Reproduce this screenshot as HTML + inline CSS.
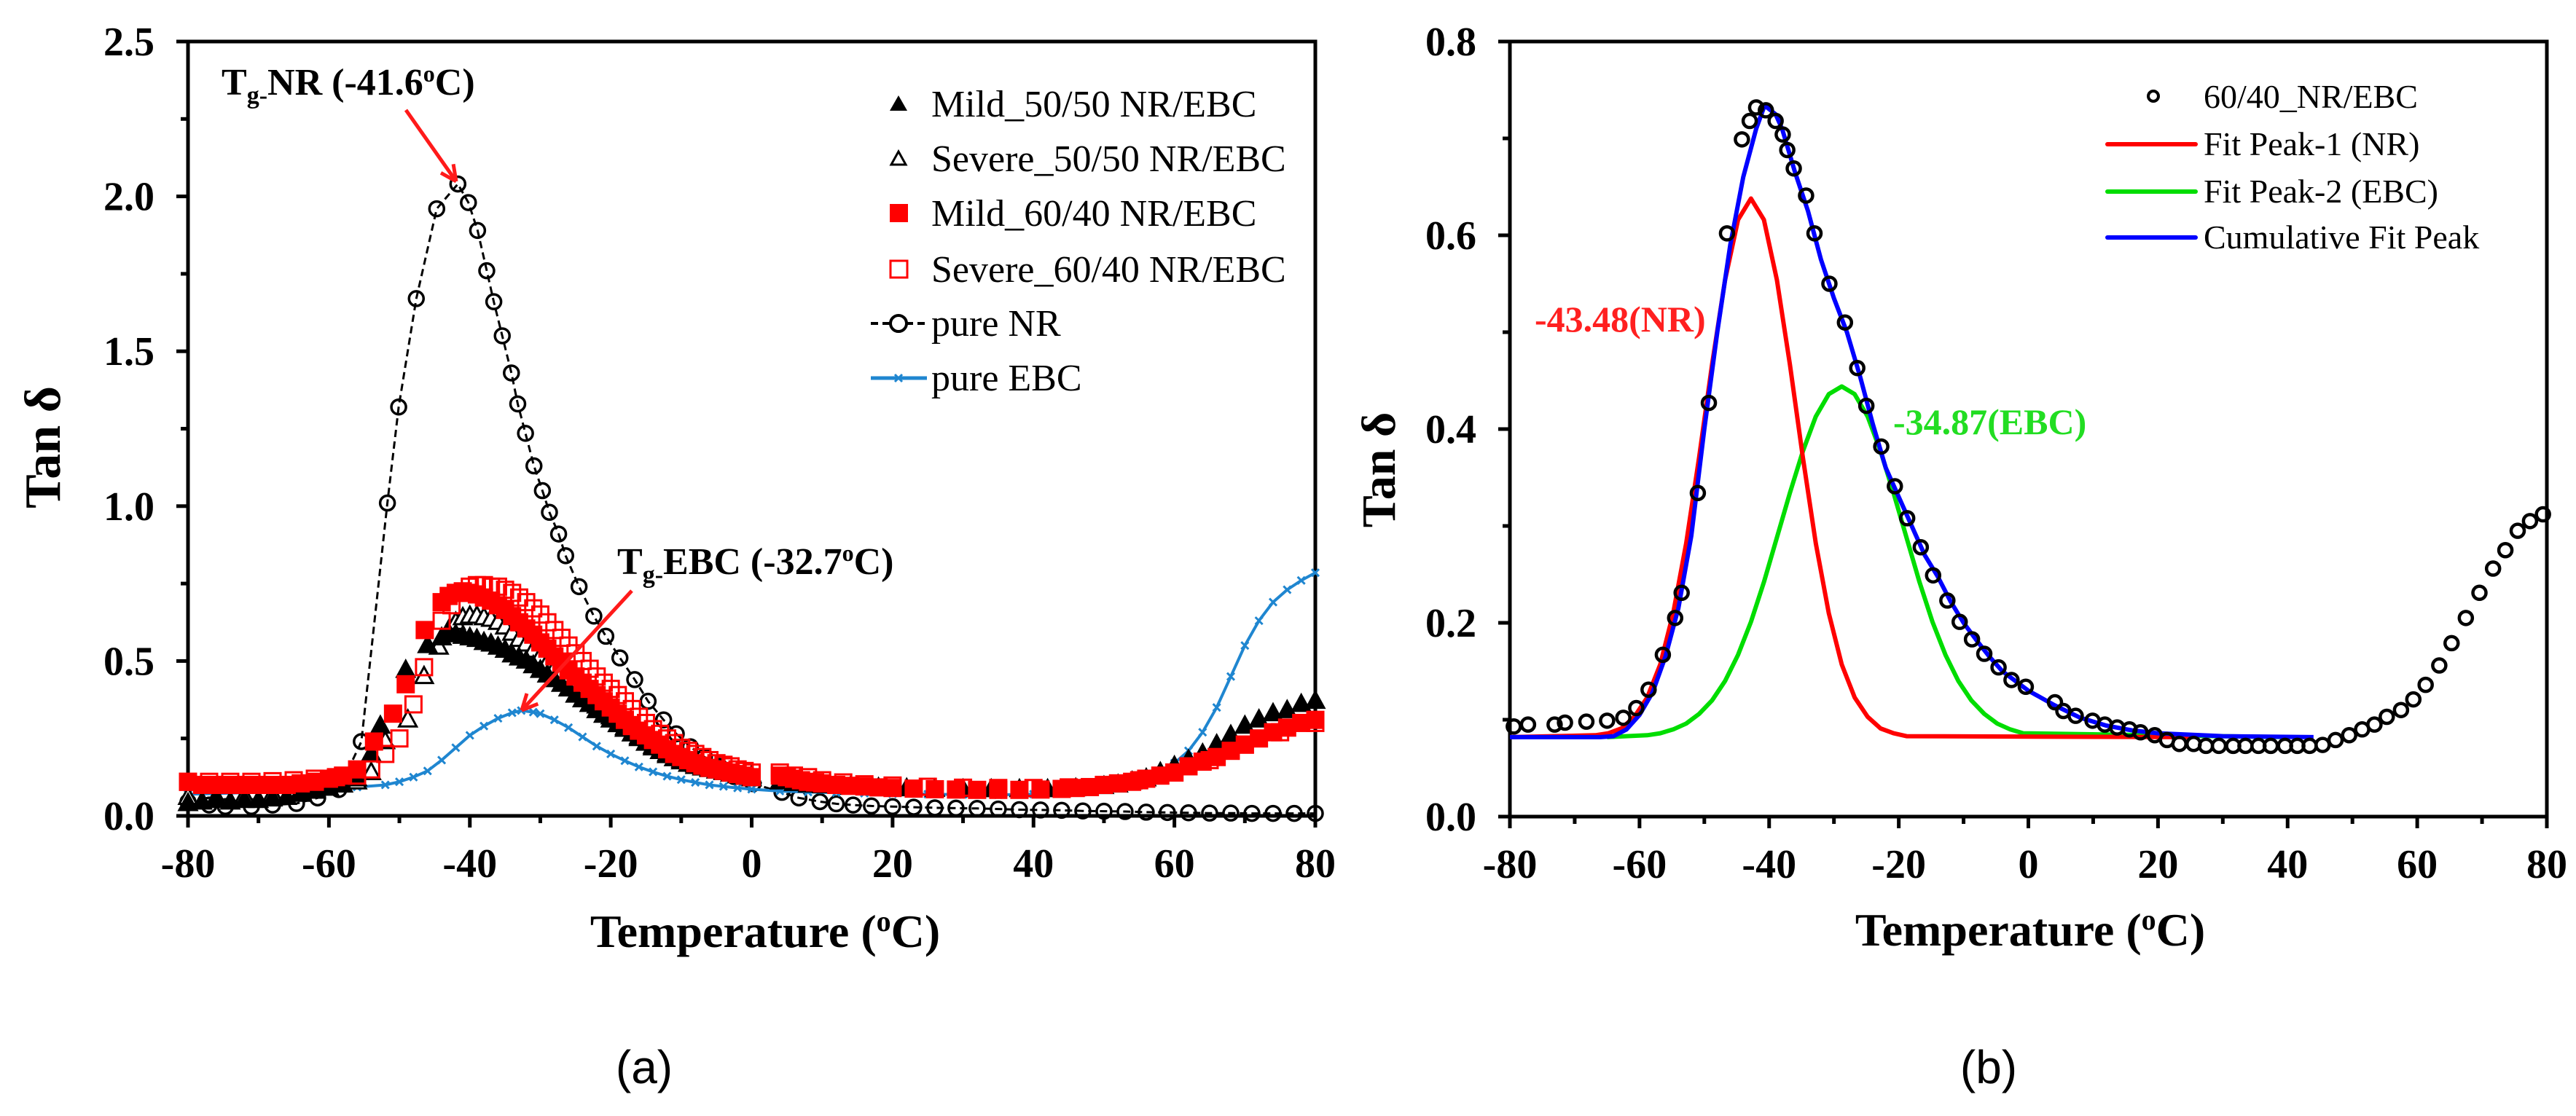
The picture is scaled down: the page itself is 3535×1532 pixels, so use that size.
<!DOCTYPE html>
<html><head><meta charset="utf-8"><style>
html,body{margin:0;padding:0;background:#fff;}
svg{display:block;}
svg text{font-family:"Liberation Serif",serif;}
svg text.sans{font-family:"Liberation Sans",sans-serif;}
</style></head><body>
<svg id="fig" width="3535" height="1532" viewBox="0 0 3535 1532" xmlns="http://www.w3.org/2000/svg">
<g id="pa"></g>
<g id="pb"></g>
</svg>
<script>
// ---------- Panel (a) data ----------
const xTicksA = [-80,-60,-40,-20,0,20,40,60,80];
const yTicksA = [0.0,0.5,1.0,1.5,2.0,2.5];
const yTickLabelsA = ["0.0","0.5","1.0","1.5","2.0","2.5"];
const nrT = [-80,-77,-74.7,-71,-68,-64.6,-61.6,-58.6,-55.4,-51.7,-50.1,-47.6,-44.7,-41.7,-40.2,-38.9,-37.6,-36.6,-35.4,-34.1,-33.2,-32.1,-30.9,-29.7,-28.7,-27.4,-26.4,-24.5,-22.4,-20.7,-18.7,-16.6,-14.7,-12.5,-10.7,-8.7,-6.7,-4.6,-2.5,0.2,4.3,6.7,9.7,12,14.4,17,20,23,26,29,32,35,38,41,44,47,50,53,56,59,62,65,68,71,74,77,80];
const nrV = [0.045,0.035,0.03,0.03,0.035,0.04,0.058,0.085,0.24,1.01,1.32,1.67,1.96,2.04,1.98,1.89,1.76,1.66,1.55,1.43,1.33,1.235,1.13,1.05,0.98,0.91,0.84,0.74,0.645,0.58,0.51,0.44,0.37,0.31,0.265,0.223,0.19,0.16,0.127,0.104,0.076,0.058,0.046,0.039,0.035,0.032,0.03,0.028,0.026,0.025,0.024,0.022,0.02,0.019,0.018,0.016,0.015,0.014,0.012,0.011,0.01,0.009,0.009,0.008,0.008,0.008,0.008];
const ebcT = [-80,-76,-72,-68,-64,-60,-56,-52,-50,-48,-46,-44,-42,-40,-38,-36,-34,-32.7,-31,-30,-28,-26,-24,-22,-20,-18,-16,-14,-12,-10,-8,-6,-4,-2,0,4,8,12,16,20,25,30,35,40,45,50,53,56,58,60,62,64,66,68,70,72,74,76,78,80];
const ebcV = [0.07,0.072,0.075,0.078,0.082,0.088,0.093,0.1,0.11,0.125,0.145,0.18,0.22,0.26,0.29,0.315,0.333,0.34,0.335,0.33,0.31,0.285,0.255,0.225,0.2,0.178,0.158,0.142,0.128,0.117,0.108,0.1,0.095,0.09,0.086,0.08,0.077,0.075,0.073,0.071,0.07,0.069,0.068,0.07,0.075,0.088,0.1,0.12,0.14,0.17,0.21,0.27,0.35,0.45,0.55,0.63,0.69,0.73,0.76,0.785];
const m50T = [-80,-78,-76,-74,-72,-70,-68,-66,-64,-62,-60,-58,-56,-54,-52.7,-49.1,-46,-44,-43,-42,-41,-40,-39,-38,-37,-36,-35,-34,-33,-32,-31,-30,-29,-28,-27,-26,-25,-24,-23,-22,-21,-20,-19,-18,-17,-16,-15,-14,-13,-12,-11,-10,-9,-8,-7,-6,-5,-4,-3,-2,-1,0,4,6,8,10,14,18,22,26,30,34,38,42,46,50,52,54,56,58,60,62,64,66,68,70,72,74,76,78,80];
const m50V = [0.04,0.045,0.05,0.045,0.05,0.05,0.055,0.06,0.07,0.08,0.09,0.1,0.12,0.2,0.29,0.47,0.55,0.575,0.59,0.585,0.58,0.575,0.57,0.56,0.555,0.545,0.535,0.52,0.51,0.5,0.485,0.47,0.455,0.44,0.425,0.41,0.39,0.375,0.36,0.34,0.325,0.31,0.295,0.28,0.265,0.25,0.235,0.22,0.208,0.195,0.185,0.175,0.167,0.16,0.155,0.15,0.145,0.14,0.135,0.13,0.125,0.12,0.11,0.105,0.1,0.098,0.093,0.09,0.088,0.086,0.085,0.085,0.085,0.085,0.088,0.095,0.1,0.11,0.12,0.14,0.16,0.18,0.2,0.23,0.26,0.29,0.31,0.33,0.34,0.36,0.37];
const s50T = [-80,-76,-72,-68,-64,-60,-56,-54,-52,-48.8,-46.5,-44.4,-43,-42,-41,-40,-39,-38,-37,-36,-35,-34,-33,-32,-31,-30,-29,-28,-27,-26,-25,-24,-22,-20,-18,-16,-14,-12,-10,-8,-6,-4,-2,0];
const s50V = [0.06,0.06,0.065,0.07,0.08,0.09,0.11,0.14,0.24,0.31,0.45,0.545,0.6,0.625,0.64,0.645,0.645,0.64,0.635,0.625,0.61,0.59,0.57,0.555,0.535,0.515,0.495,0.475,0.455,0.435,0.415,0.395,0.355,0.32,0.285,0.255,0.225,0.2,0.18,0.165,0.155,0.145,0.14,0.13];
const m60T = [-80,-78,-76,-74,-72,-70,-68,-66,-64,-62,-60,-58,-56,-53.6,-50.9,-49.1,-46.4,-44,-43,-42,-41,-40,-39,-38,-37,-36,-35,-34,-33,-32,-31,-30,-29,-28,-27,-26,-25,-24,-23,-22,-21,-20,-19,-18,-17,-16,-15,-14,-13,-12,-11,-10,-9,-8,-7,-6,-5,-4,-3,-2,-1,0,4,5,6,7,8,9,10,12,14,16,18,20,23,26,29,32,35,38,41,44,46,48,50,52,54,56,58,60,62,64,66,68,70,72,74,76,78,80];
const m60V = [0.11,0.1,0.1,0.1,0.1,0.1,0.1,0.1,0.105,0.11,0.12,0.13,0.15,0.24,0.33,0.425,0.6,0.69,0.71,0.72,0.725,0.72,0.715,0.705,0.695,0.68,0.665,0.645,0.625,0.605,0.585,0.56,0.54,0.515,0.495,0.47,0.45,0.43,0.41,0.39,0.37,0.35,0.33,0.31,0.29,0.275,0.26,0.245,0.23,0.215,0.2,0.19,0.18,0.17,0.162,0.155,0.15,0.145,0.14,0.135,0.13,0.125,0.13,0.125,0.12,0.115,0.11,0.108,0.105,0.1,0.097,0.095,0.092,0.09,0.088,0.086,0.085,0.084,0.084,0.084,0.085,0.087,0.09,0.093,0.1,0.105,0.11,0.12,0.13,0.14,0.16,0.175,0.19,0.21,0.23,0.25,0.27,0.285,0.3,0.31];
const s60T = [-80,-77,-74,-71,-68,-65,-62,-59,-56,-54,-52,-50,-48,-46.5,-44,-42.6,-41,-40,-39,-38,-37,-36,-35,-34,-33,-32,-31,-30,-29,-28,-27,-26,-25,-24,-23,-22,-21,-20,-19,-18,-17,-16,-15,-14,-13,-12,-11,-10,-9,-8,-7,-6,-5,-4,-3,-2,-1,0,4,6,8,10,13,16,20,25,30,35,40,45,50,55,60,65,70,75,80];
const s60V = [0.11,0.11,0.11,0.11,0.112,0.115,0.12,0.125,0.13,0.15,0.2,0.25,0.36,0.48,0.63,0.68,0.72,0.74,0.745,0.745,0.74,0.74,0.73,0.72,0.705,0.69,0.67,0.65,0.625,0.6,0.575,0.55,0.525,0.5,0.475,0.45,0.43,0.41,0.39,0.37,0.345,0.32,0.3,0.28,0.265,0.25,0.235,0.22,0.21,0.2,0.19,0.18,0.17,0.165,0.16,0.15,0.145,0.14,0.14,0.13,0.125,0.115,0.108,0.102,0.098,0.094,0.091,0.09,0.09,0.092,0.1,0.115,0.14,0.18,0.23,0.27,0.3];

// ---------- Panel (b) data ----------
const xTicksB = [-80,-60,-40,-20,0,20,40,60,80];
const yTicksB = [0.0,0.2,0.4,0.6,0.8];
const yTickLabelsB = ["0.0","0.2","0.4","0.6","0.8"];
const circT = [-79.4,-77.2,-73.1,-71.5,-68.2,-65,-62.5,-60.5,-58.6,-56.4,-54.5,-53.5,-51,-49.3,-46.5,-44.2,-43,-42,-40.5,-39,-37.9,-37.2,-36.2,-34.3,-33,-30.7,-28.3,-26.4,-25,-22.7,-20.6,-18.7,-16.6,-14.7,-12.5,-10.6,-8.7,-6.8,-4.6,-2.6,-0.4,4.1,5.4,7.3,9.9,11.8,13.7,15.6,17.3,19.5,21.4,23.3,25.5,27.4,29.4,31.6,33.5,35.5,37.4,39.6,41.5,43.4,45.4,47.4,49.5,51.5,53.4,55.3,57.5,59.4,61.3,63.4,65.3,67.5,69.6,71.7,73.6,75.5,77.4,79.4];
const circV = [0.093,0.095,0.095,0.097,0.098,0.099,0.102,0.112,0.131,0.167,0.205,0.231,0.334,0.427,0.602,0.699,0.718,0.732,0.729,0.718,0.704,0.688,0.669,0.641,0.602,0.55,0.51,0.463,0.424,0.382,0.341,0.308,0.278,0.249,0.223,0.201,0.183,0.168,0.154,0.141,0.134,0.118,0.109,0.104,0.099,0.095,0.092,0.09,0.087,0.084,0.079,0.075,0.075,0.073,0.073,0.073,0.073,0.073,0.073,0.073,0.073,0.073,0.074,0.079,0.084,0.09,0.095,0.103,0.11,0.121,0.136,0.156,0.179,0.205,0.231,0.256,0.275,0.295,0.305,0.312];
const redT = [-80,-66.8,-64.8,-62.8,-60.8,-58.8,-56.8,-54.8,-52.8,-50.8,-48.8,-46.8,-44.8,-42.8,-40.8,-38.8,-36.8,-34.8,-32.8,-30.8,-28.8,-26.8,-24.8,-22.8,-20.8,-18.8,25];
const redV = [0.082,0.084,0.086,0.091,0.103,0.123,0.157,0.210,0.282,0.371,0.467,0.554,0.616,0.638,0.616,0.554,0.467,0.371,0.282,0.210,0.157,0.123,0.103,0.091,0.086,0.083,0.082];
const greenT = [-65,-58.8,-56.8,-54.8,-52.8,-50.8,-48.8,-46.8,-44.8,-42.8,-40.8,-38.8,-36.8,-34.8,-32.8,-30.8,-28.8,-26.8,-24.8,-22.8,-20.8,-18.8,-16.8,-14.8,-12.8,-10.8,-8.8,-6.8,-4.8,-2.8,-0.8,40];
const greenV = [0.082,0.084,0.086,0.090,0.096,0.106,0.120,0.140,0.167,0.201,0.242,0.288,0.334,0.377,0.413,0.436,0.444,0.436,0.413,0.377,0.334,0.288,0.242,0.201,0.167,0.140,0.120,0.106,0.096,0.090,0.086,0.082];
const blueT = [-80,-66,-64,-62,-60,-58,-56,-54,-52,-50,-48,-46,-44,-42,-40.7,-39,-38,-36,-34,-32,-30,-28,-26,-24,-22,-20,-18,-16,-14,-12,-10,-8,-6,-4,-2,0,4,8,12,16,20,30,44];
const blueV = [0.082,0.082,0.083,0.09,0.105,0.128,0.165,0.215,0.29,0.40,0.50,0.59,0.66,0.71,0.734,0.725,0.71,0.665,0.625,0.575,0.535,0.50,0.455,0.405,0.36,0.33,0.30,0.27,0.248,0.222,0.2,0.182,0.165,0.15,0.14,0.13,0.115,0.102,0.094,0.089,0.086,0.083,0.082];

const NS = "http://www.w3.org/2000/svg";
function mk(tag, attrs, parent){ const e=document.createElementNS(NS,tag); for(const k in attrs) e.setAttribute(k,attrs[k]); parent.appendChild(e); return e; }

const A = {x0:258,x1:1805,y0:1120,y1:57,xmin:-80,xmax:80,ymin:0,ymax:2.5};
const B = {x0:2072,x1:3495,y0:1121,y1:57,xmin:-80,xmax:80,ymin:0,ymax:0.8};
function sx(P,v){return P.x0+(v-P.xmin)/(P.xmax-P.xmin)*(P.x1-P.x0);}
function sy(P,v){return P.y0-(v-P.ymin)/(P.ymax-P.ymin)*(P.y0-P.y1);}

function frame(P,g,xt,yt,ytl,yMinorStep,name){
  const r=mk('rect',{x:P.x0,y:P.y1,width:P.x1-P.x0,height:P.y0-P.y1,fill:'none',stroke:'#000','stroke-width':5},g);
  
  
  const xa=mk('g',{},g);
  
  
  for(let v=P.xmin; v<=P.xmax; v+=10){
    const major = (v%20===0);
    mk('line',{x1:sx(P,v),x2:sx(P,v),y1:P.y0,y2:P.y0+(major?16:10),stroke:'#000','stroke-width':5},xa);
  }
  xt.forEach(v=>{
    const t=mk('text',{x:sx(P,v),y:P.y0+84,'text-anchor':'middle','font-size':56,'font-weight':'bold'},xa);
    t.textContent=String(v);
    
    
  });
  const ya=mk('g',{},g);
  
  
  for(let v=P.ymin; v<=P.ymax+1e-9; v+=yMinorStep){
    const major = yt.some(t=>Math.abs(t-v)<1e-6);
    mk('line',{x1:P.x0-(major?16:10),x2:P.x0,y1:sy(P,v),y2:sy(P,v),stroke:'#000','stroke-width':5},ya);
  }
  yt.forEach((v,i)=>{
    const t=mk('text',{x:P.x0-46,y:sy(P,v)+19,'text-anchor':'end','font-size':56,'font-weight':'bold'},ya);
    t.textContent=ytl[i];
    
    
  });
}
function pathD(P,T,V){return T.map((t,i)=>(i?'L':'M')+sx(P,t).toFixed(1)+','+sy(P,V[i]).toFixed(1)).join(' ');}

// ---------- Panel A ----------
const ga=document.getElementById('pa');
frame(A,ga,xTicksA,yTicksA,yTickLabelsA,0.25,'a');
let t;
t=mk('text',{x:1050,y:1300,'text-anchor':'middle','font-size':64,'font-weight':'bold'},ga);
t.innerHTML='Temperature (<tspan baseline-shift="super" font-size="40">o</tspan>C)';


t=mk('text',{x:0,y:0,transform:'translate(82,614) rotate(-90)','text-anchor':'middle','font-size':70,'font-weight':'bold'},ga);
t.textContent='Tan δ';


t=mk('text',{x:884,y:1487,'text-anchor':'middle','font-size':64,'class':'sans'},ga);
t.textContent='(a)';



const clipA=mk('g',{},ga);
const nrG=mk('g',{},clipA);


mk('path',{d:pathD(A,nrT,nrV),fill:'none',stroke:'#000','stroke-width':3,'stroke-dasharray':'10,6'},nrG);
nrT.forEach((x,i)=>{ const c=mk('circle',{cx:sx(A,x),cy:sy(A,nrV[i]),r:10,fill:'none',stroke:'#000','stroke-width':3.5},nrG);   });
const ebG=mk('g',{},clipA);


mk('path',{d:pathD(A,ebcT,ebcV),fill:'none',stroke:'#1f86d0','stroke-width':4},ebG);
ebcT.forEach((x,i)=>{ const cx=sx(A,x),cy=sy(A,ebcV[i]); const p=mk('path',{d:`M${cx-5},${cy-5}L${cx+5},${cy+5}M${cx-5},${cy+5}L${cx+5},${cy-5}`,stroke:'#1f86d0','stroke-width':3},ebG);   });
function tri(P,g,x,v,fill,name){const cx=sx(P,x),cy=sy(P,v); const p=mk('path',{d:`M${cx},${cy-13}L${cx+12},${cy+9}L${cx-12},${cy+9}Z`,fill:fill,stroke:'#000','stroke-width':3},g);  }
function sq(P,g,x,v,fill,name){const cx=sx(P,x),cy=sy(P,v); const p=mk('rect',{x:cx-11,y:cy-11,width:22,height:22,fill:fill,stroke:'#ff0000','stroke-width':3},g);  }
const s50G=mk('g',{},clipA);


s50T.forEach((x,i)=>tri(A,s50G,x,s50V[i],'#fff','severe-50-50-point'));
const m50G=mk('g',{},clipA);


m50T.forEach((x,i)=>tri(A,m50G,x,m50V[i],'#000','mild-50-50-point'));
const s60G=mk('g',{},clipA);


s60T.forEach((x,i)=>sq(A,s60G,x,s60V[i],'none','severe-60-40-point'));
const m60G=mk('g',{},clipA);


m60T.forEach((x,i)=>sq(A,m60G,x,m60V[i],'#ff0000','mild-60-40-point'));

const anA=mk('g',{},ga);


t=mk('text',{x:304,y:130,'font-size':52,'font-weight':'bold'},anA);
t.innerHTML='T<tspan font-size="34" dy="12">g-</tspan><tspan dy="-12">NR (-41.6</tspan><tspan font-size="32" dy="-18">o</tspan><tspan dy="18">C)</tspan>';


t=mk('text',{x:847,y:788,'font-size':52,'font-weight':'bold'},anA);
t.innerHTML='T<tspan font-size="34" dy="12">g-</tspan><tspan dy="-12">EBC (-32.7</tspan><tspan font-size="32" dy="-18">o</tspan><tspan dy="18">C)</tspan>';


function arrow(g,x1,y1,x2,y2,name){
  const a=mk('g',{},g);
  
  
  mk('line',{x1:x1,y1:y1,x2:x2,y2:y2,stroke:'#ff1a1a','stroke-width':5},a);
  const ang=Math.atan2(y2-y1,x2-x1),L=24,w=0.45;
  mk('path',{d:`M${x2},${y2}L${x2-L*Math.cos(ang-w)},${y2-L*Math.sin(ang-w)}M${x2},${y2}L${x2-L*Math.cos(ang+w)},${y2-L*Math.sin(ang+w)}`,stroke:'#ff1a1a','stroke-width':5,fill:'none'},a);
}
arrow(anA,557,151,626,249,'tg-nr-arrow');
arrow(anA,867,811,716,975,'tg-ebc-arrow');

const lgA=mk('g',{},ga);


const legA=[['Mild_50/50 NR/EBC',160],['Severe_50/50 NR/EBC',235],['Mild_60/40 NR/EBC',310],['Severe_60/40 NR/EBC',387],['pure NR',461],['pure EBC',536]];
legA.forEach((L,i)=>{
  const e=mk('g',{},lgA);
  
  
  const cy=L[1]-17;
  if(i===0) mk('path',{d:`M1233,${cy-12}L1245,${cy+9}L1221,${cy+9}Z`,fill:'#000'},e);
  if(i===1) mk('path',{d:`M1233,${cy-10}L1243,${cy+8}L1223,${cy+8}Z`,fill:'none',stroke:'#000','stroke-width':3},e);
  if(i===2) mk('rect',{x:1221,y:cy-13,width:25,height:25,fill:'#ff0000'},e);
  if(i===3) mk('rect',{x:1222,y:cy-12,width:23,height:23,fill:'none',stroke:'#ff0000','stroke-width':3},e);
  if(i===4){ mk('line',{x1:1195,x2:1272,y1:cy,y2:cy,stroke:'#000','stroke-width':4,'stroke-dasharray':'10,6'},e); mk('circle',{cx:1233,cy:cy,r:11,fill:'#fff',stroke:'#000','stroke-width':4},e); }
  if(i===5){ mk('line',{x1:1195,x2:1272,y1:cy,y2:cy,stroke:'#1f86d0','stroke-width':5},e); mk('path',{d:`M1228,${cy-5}L1238,${cy+5}M1228,${cy+5}L1238,${cy-5}`,stroke:'#1f86d0','stroke-width':3},e); }
  const tx=mk('text',{x:1278,y:L[1],'font-size':52,'font-family':'Liberation Serif, serif'},e);
  tx.textContent=L[0];
});

// ---------- Panel B ----------
const gb=document.getElementById('pb');
frame(B,gb,xTicksB,yTicksB,yTickLabelsB,0.1,'b');
t=mk('text',{x:2786,y:1298,'text-anchor':'middle','font-size':64,'font-weight':'bold'},gb);
t.innerHTML='Temperature (<tspan baseline-shift="super" font-size="40">o</tspan>C)';


t=mk('text',{x:0,y:0,transform:'translate(1914,645) rotate(-90)','text-anchor':'middle','font-size':66,'font-weight':'bold'},gb);
t.textContent='Tan δ';


t=mk('text',{x:2729,y:1487,'text-anchor':'middle','font-size':64,'class':'sans'},gb);
t.textContent='(b)';



const fitG=mk('g',{},gb);


let p;
p=mk('path',{d:pathD(B,greenT,greenV),fill:'none',stroke:'#00dd00','stroke-width':6,'stroke-linejoin':'round'},fitG);


p=mk('path',{d:pathD(B,redT,redV),fill:'none',stroke:'#ff0000','stroke-width':6,'stroke-linejoin':'round'},fitG);


p=mk('path',{d:pathD(B,blueT,blueV),fill:'none',stroke:'#0000ff','stroke-width':6,'stroke-linejoin':'round'},fitG);


const cG=mk('g',{},gb);


circT.forEach((x,i)=>{ const c=mk('circle',{cx:sx(B,x),cy:sy(B,circV[i]),r:9,fill:'none',stroke:'#000','stroke-width':4.5},cG);   });

t=mk('text',{x:2106,y:455,'font-size':50,'font-weight':'bold',fill:'#ff2020'},gb);
t.textContent='-43.48(NR)';


t=mk('text',{x:2598,y:596,'font-size':50,'font-weight':'bold',fill:'#22dd22'},gb);
t.textContent='-34.87(EBC)';



const lgB=mk('g',{},gb);


const legB=[['60/40_NR/EBC',148,null],['Fit Peak-1 (NR)',213,'#ff0000'],['Fit Peak-2 (EBC)',278,'#00dd00'],['Cumulative Fit Peak',341,'#0000ff']];
legB.forEach((L,i)=>{
  const e=mk('g',{},lgB);
  
  
  if(L[2]) mk('line',{x1:2892,x2:3013,y1:L[1]-15,y2:L[1]-15,stroke:L[2],'stroke-width':6,'stroke-linecap':'round'},e);
  else mk('circle',{cx:2955,cy:L[1]-16,r:7,fill:'none',stroke:'#000','stroke-width':4},e);
  const tx=mk('text',{x:3024,y:L[1],'font-size':46,'font-family':'Liberation Serif, serif'},e);
  tx.textContent=L[0];
});
</script>
</body></html>
